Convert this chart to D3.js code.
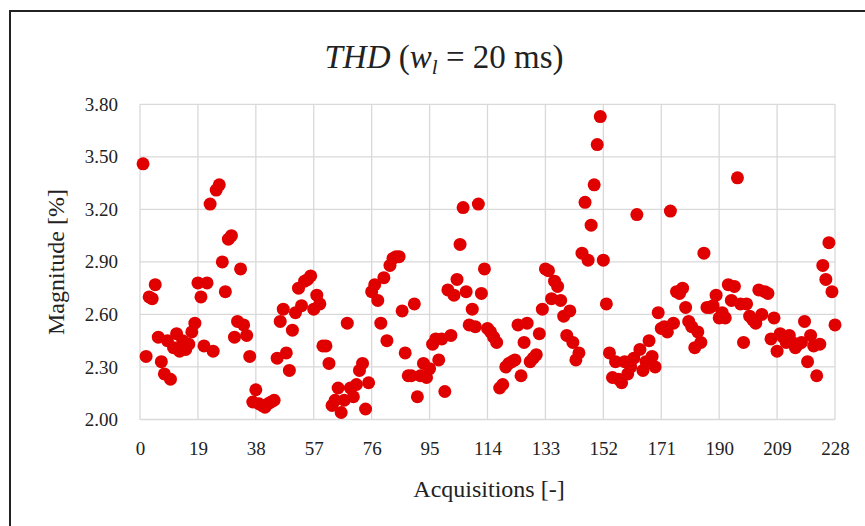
<!DOCTYPE html>
<html>
<head>
<meta charset="utf-8">
<script src="https://cdn.jsdelivr.net/npm/d3@7"></script>
<style>
  html, body { margin: 0; padding: 0; background: #fff; }
  svg { display: block; }
</style>
</head>
<body>
<svg id="chart" width="865" height="526"></svg>
<script>
// ---- data ----
const acquisitions = d3.range(1, 229);
const thdValues = [
  3.46, 2.36, 2.70, 2.69, 2.77, 2.47, 2.33, 2.26, 2.45, 2.23,
  2.41, 2.49, 2.39, 2.45, 2.40, 2.43, 2.50, 2.55, 2.78, 2.70,
  2.42, 2.78, 3.23, 2.39, 3.31, 3.34, 2.90, 2.73, 3.03, 3.05,
  2.47, 2.56, 2.86, 2.54, 2.48, 2.36, 2.10, 2.17, 2.09, 2.08,
  2.07, 2.09, 2.10, 2.11, 2.35, 2.56, 2.63, 2.38, 2.28, 2.51,
  2.61, 2.75, 2.65, 2.79, 2.80, 2.82, 2.63, 2.71, 2.66, 2.42,
  2.42, 2.32, 2.08, 2.11, 2.18, 2.04, 2.11, 2.55, 2.18, 2.13,
  2.20, 2.28, 2.32, 2.06, 2.21, 2.73, 2.77, 2.68, 2.55, 2.81,
  2.45, 2.88, 2.92, 2.93, 2.93, 2.62, 2.38, 2.25, 2.25, 2.66,
  2.13, 2.25, 2.32, 2.24, 2.29, 2.43, 2.46, 2.34, 2.46, 2.16,
  2.74, 2.48, 2.71, 2.80, 3.00, 3.21, 2.73, 2.54, 2.63, 2.53,
  3.23, 2.72, 2.86, 2.52, 2.50, 2.47, 2.44, 2.18, 2.20, 2.30,
  2.32, 2.33, 2.34, 2.54, 2.25, 2.44, 2.55, 2.33, 2.35, 2.37,
  2.49, 2.63, 2.86, 2.85, 2.69, 2.79, 2.76, 2.68, 2.59, 2.48,
  2.62, 2.44, 2.34, 2.38, 2.95, 3.24, 2.91, 3.11, 3.34, 3.57,
  3.73, 2.91, 2.66, 2.38, 2.24, 2.33, 2.23, 2.21, 2.33, 2.26,
  2.30, 2.35, 3.17, 2.40, 2.28, 2.33, 2.45, 2.36, 2.30, 2.61,
  2.52, 2.53, 2.50, 3.19, 2.55, 2.73, 2.72, 2.75, 2.64, 2.56,
  2.53, 2.41, 2.50, 2.44, 2.95, 2.64, 2.64, 2.65, 2.71, 2.58,
  2.61, 2.58, 2.77, 2.68, 2.76, 3.38, 2.66, 2.44, 2.66, 2.59,
  2.57, 2.55, 2.74, 2.60, 2.73, 2.72, 2.46, 2.58, 2.39, 2.49,
  2.47, 2.44, 2.48, 2.44, 2.41, 2.43, 2.44, 2.56, 2.33, 2.48,
  2.42, 2.25, 2.43, 2.88, 2.80, 3.01, 2.73, 2.54
];
const xTicks = [0, 19, 38, 57, 76, 95, 114, 133, 152, 171, 190, 209, 228];
const yTicks = [2.00, 2.30, 2.60, 2.90, 3.20, 3.50, 3.80];

const FONT = "'Liberation Serif', 'Times New Roman', serif";

// ---- layout ----
const svg = d3.select("#chart");
const plot = { left: 140, right: 835, top: 104.3, bottom: 419.5 };

const x = d3.scaleLinear().domain([0, 228]).range([plot.left, plot.right]);
const y = d3.scaleLinear().domain([2.0, 3.8]).range([plot.bottom, plot.top]);

// outer frame
svg.append("rect")
  .attr("x", 10).attr("y", 11)
  .attr("width", 870).attr("height", 530)
  .attr("fill", "none").attr("stroke", "#222").attr("stroke-width", 2);

// grid
const grid = svg.append("g");
grid.selectAll("line.h").data(yTicks).join("line")
  .attr("x1", plot.left).attr("x2", plot.right)
  .attr("y1", d => y(d)).attr("y2", d => y(d))
  .attr("stroke", "#d9d9d9").attr("stroke-width", 1.3);
grid.selectAll("line.v").data(xTicks).join("line")
  .attr("y1", plot.top).attr("y2", plot.bottom)
  .attr("x1", d => x(d)).attr("x2", d => x(d))
  .attr("stroke", "#d9d9d9").attr("stroke-width", 1.3);

// axes (labels only)
const yAxis = d3.axisLeft(y).tickValues(yTicks).tickFormat(d3.format(".2f")).tickSize(0).tickPadding(22);
svg.append("g").attr("transform", `translate(${plot.left},0)`).call(yAxis)
  .attr("font-family", FONT).attr("font-size", 19)
  .call(g => g.select(".domain").remove())
  .call(g => g.selectAll("text").attr("fill", "#222"));

const xAxis = d3.axisBottom(x).tickValues(xTicks).tickFormat(d3.format("d")).tickSize(0).tickPadding(22);
svg.append("g").attr("transform", `translate(0,${plot.bottom})`).call(xAxis)
  .attr("font-family", FONT).attr("font-size", 19)
  .call(g => g.select(".domain").remove())
  .call(g => g.selectAll("text").attr("fill", "#222"));

// points
svg.append("g").selectAll("circle")
  .data(acquisitions.map((a, i) => [a, thdValues[i]]))
  .join("circle")
  .attr("cx", d => x(d[0])).attr("cy", d => y(d[1]))
  .attr("r", 6.5)
  .attr("fill", "#e00000");

// title
const title = svg.append("text")
  .attr("x", 444).attr("y", 68)
  .attr("text-anchor", "middle")
  .attr("font-family", FONT)
  .attr("font-size", 33)
  .attr("fill", "#222");
title.append("tspan").attr("font-style", "italic").text("THD");
title.append("tspan").text(" (");
title.append("tspan").attr("font-style", "italic").text("w");
title.append("tspan").attr("font-style", "italic").attr("font-size", 21).attr("dy", 6).text("l");
title.append("tspan").attr("dy", -6).text(" = 20 ms)");

// axis titles
svg.append("text")
  .attr("x", 489).attr("y", 497)
  .attr("text-anchor", "middle")
  .attr("font-family", FONT)
  .attr("font-size", 24)
  .attr("fill", "#222")
  .text("Acquisitions [-]");

svg.append("text")
  .attr("transform", "translate(64,262) rotate(-90)")
  .attr("text-anchor", "middle")
  .attr("font-family", FONT)
  .attr("font-size", 24)
  .attr("fill", "#222")
  .text("Magnitude [%]");
</script>
</body>
</html>
